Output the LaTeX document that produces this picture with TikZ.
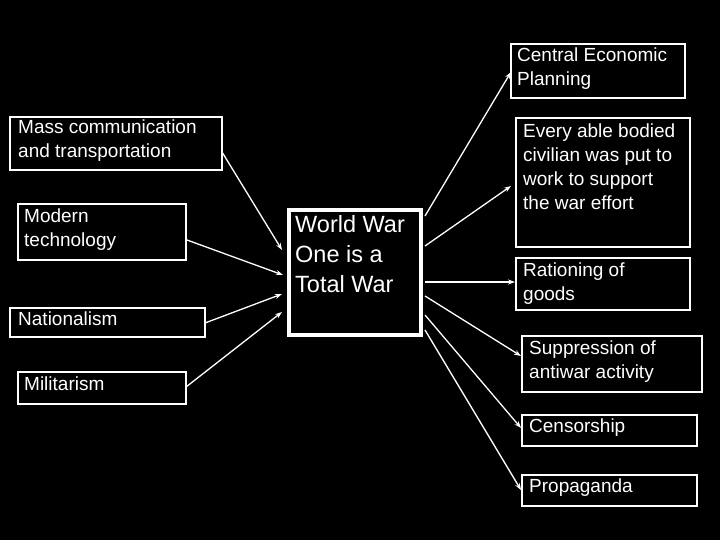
\documentclass[tikz,border=0pt]{standalone}
\usepackage{fontspec}
\setmainfont{Liberation Sans}
\usetikzlibrary{arrows.meta}
\begin{document}
\begin{tikzpicture}[x=1pt,y=-1pt,
 box/.style={draw=white,line width=1.2pt,fill=black,text=white,inner sep=0pt},
 lbl/.style={text=white,anchor=north west,align=left,inner sep=0pt,font=\fontsize{19}{24}\selectfont},
 arr/.style={draw=white,line width=1.3pt,-{Stealth[length=7pt,width=5pt]}}]
\fill[black] (0,0) rectangle (720,540);
\useasboundingbox (0,0) rectangle (720,540);
\draw[box] (511,44) rectangle (685,98) coordinate (cep);
\node[lbl] (cept) at (517,48) {Central Economic\\Planning};
\draw[box] (10,117) rectangle (222,170);
\node[lbl] (mct) at (18,120) {Mass communication\\and transportation};
\draw[box] (18,204) rectangle (186,260);
\node[lbl] (mtt) at (24,209) {Modern\\technology};
\draw[box] (10,308) rectangle (205,337);
\node[lbl] (nat) at (18,312) {Nationalism};
\draw[box] (18,372) rectangle (186,404);
\node[lbl] (mil) at (24,377) {Militarism};
\draw[draw=white,line width=4pt,fill=black] (289,210) rectangle (421,335);
\node[text=white,anchor=north west,align=left,inner sep=0pt,font=\fontsize{23.5}{30}\selectfont] (ww) at (295,215) {World War\\One is a\\Total War};
\draw[box] (516,118) rectangle (690,247);
\node[lbl] (eab) at (523,124) {Every able bodied\\civilian was put to\\work to support\\the war effort};
\draw[box] (516,258) rectangle (690,310);
\node[lbl] (rat) at (523,263) {Rationing of\\goods};
\draw[box] (522,336) rectangle (702,392);
\node[lbl] (sup) at (529,341) {Suppression of\\antiwar activity};
\draw[box] (522,415) rectangle (697,446);
\node[lbl] (cen) at (529,419) {Censorship};
\draw[box] (522,475) rectangle (697,506);
\node[lbl] (pro) at (529,479) {Propaganda};
\coordinate (a1) at (222,152); \coordinate (b1) at (282,250);
\coordinate (a2) at (187,240); \coordinate (b2) at (283,275);
\coordinate (a3) at (205,323); \coordinate (b3) at (282,294);
\coordinate (a4) at (186,387); \coordinate (b4) at (282,312);
\draw[arr] (a1) -- (b1);
\draw[arr] (a2) -- (b2);
\draw[arr] (a3) -- (b3);
\draw[arr] (a4) -- (b4);
\coordinate (w) at (425,216); \coordinate (c1) at (511,72);
\draw[arr] (w) -- (c1);
\coordinate (w2) at (425,246); \coordinate (c2) at (511,186);
\draw[arr] (w2) -- (c2);
\coordinate (w3) at (425,282); \coordinate (c3) at (515,282);
\draw[arr] (w3) -- (c3);
\coordinate (w4) at (425,296); \coordinate (c4) at (521,356);
\draw[arr] (w4) -- (c4);
\coordinate (w5) at (425,315); \coordinate (c5) at (521,428);
\draw[arr] (w5) -- (c5);
\coordinate (w6) at (425,330); \coordinate (c6) at (521,490);
\draw[arr] (w6) -- (c6);
\end{tikzpicture}
\end{document}
